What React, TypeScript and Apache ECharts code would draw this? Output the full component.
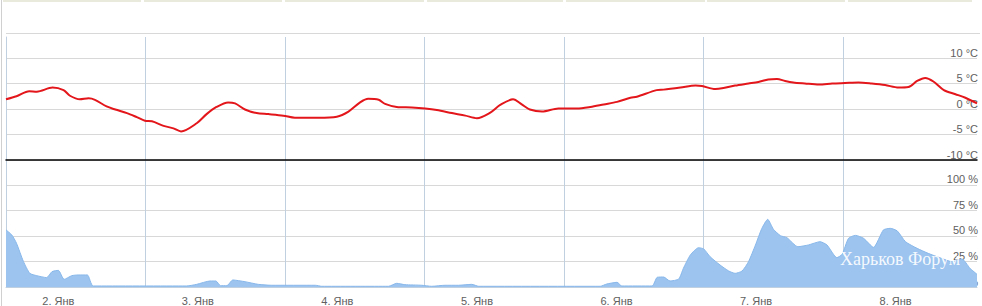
import React, { useEffect, useRef } from 'react';
import * as echarts from 'echarts';

// Hours since 2 Jan 00:00
const tempHours = [0, 1.8, 4.0, 5.3, 8.0, 9.9, 11.0, 12.7, 14.2, 15.3, 17.3, 18.8, 20.8, 22.5, 23.9, 25.1, 27.1, 28.8, 30.1, 32.8, 34.5, 36.2, 38.2, 39.4, 41.1, 43.1, 45.1, 47.7, 49.7, 53.7, 56.9, 58.9, 60.9, 62.3, 64.1, 65.2, 67.2, 69.8, 72.1, 74.1, 76.7, 79.0, 81.0, 83.3, 85.0, 87.2, 88.7, 90.1, 92.2, 95.0, 98.2, 100.5, 102.8, 105.1, 107.4, 108.5, 111.9, 113.1, 116.0, 118.6, 119.7, 122.0, 123.4, 125.4, 127.7, 129.4, 131.1, 132.6, 134.0, 135.4, 137.4, 139.8, 142.1, 144.3, 146.6, 148.9, 151.2, 153.5, 155.2, 156.7, 158.1, 159.5, 161.3, 163.3, 165.0, 167.0];
const tempValues = [1.9, 2.5, 3.5, 3.4, 4.2, 3.7, 2.6, 1.9, 2.1, 1.8, 0.5, -0.1, -0.8, -1.6, -2.3, -2.4, -3.3, -3.8, -4.4, -2.8, -1.0, 0.4, 1.3, 1.1, -0.1, -0.8, -1.0, -1.3, -1.7, -1.7, -1.5, -0.5, 1.3, 2.0, 1.8, 1.0, 0.4, 0.3, 0.1, -0.2, -0.8, -1.3, -1.8, -0.7, 0.8, 1.9, 0.9, -0.1, -0.5, 0.1, 0.1, 0.4, 0.9, 1.4, 2.2, 2.4, 3.7, 3.8, 4.2, 4.6, 4.5, 3.9, 4.1, 4.6, 5.0, 5.3, 5.8, 5.9, 5.5, 5.2, 5.0, 4.8, 5.0, 5.1, 5.2, 5.0, 4.7, 4.2, 4.3, 5.5, 6.1, 5.4, 3.7, 2.9, 2.2, 1.1];

const humHours = [0, 1.0, 1.8, 3.0, 4.1, 5.3, 7.0, 7.9, 9.0, 10.0, 11.3, 12.4, 14.0, 15.0, 31.1, 32.8, 35.1, 36.1, 36.9, 38.0, 39.0, 41.1, 43.4, 45.7, 53.2, 54.3, 65.8, 67.2, 68.6, 71.5, 73.2, 75.5, 77.8, 80.1, 81.3, 102.2, 103.3, 105.1, 105.9, 111.1, 112.0, 113.1, 114.2, 115.7, 116.5, 117.7, 119.1, 120.0, 121.1, 122.8, 124.3, 125.4, 126.6, 127.7, 128.9, 130.0, 131.0, 132.0, 133.2, 134.3, 136.2, 138.0, 140.0, 141.2, 142.9, 143.8, 144.9, 146.1, 147.5, 149.2, 150.9, 152.1, 153.3, 154.7, 156.7, 158.6, 160.9, 162.7, 164.4, 165.8, 167.0];
const humValues = [56, 51, 43, 25, 13.4, 11.1, 9.2, 15, 16.3, 7.5, 11.1, 11.8, 11.8, 1.0, 1.0, 2.6, 5.9, 5.9, 1.3, 1.3, 6.9, 5.2, 2.6, 1.7, 1.7, 0.7, 0.7, 3.6, 2.3, 1.7, 0.7, 1.7, 1.7, 2.6, 0.7, 0.7, 2.9, 4.6, 1.0, 1.0, 9.5, 9.8, 5.9, 7.8, 18.3, 31.4, 38.5, 37.3, 29.7, 21.6, 15.7, 13.4, 15.7, 24.8, 41.2, 57.5, 66.3, 56.5, 50.3, 48.4, 39.5, 41.2, 44.4, 41.2, 28.8, 32, 47.7, 50.6, 47.7, 38.9, 55.9, 57.5, 54.9, 44.4, 37.9, 33, 28.1, 24.8, 27.5, 18.3, 12.5];

const dayLabels = ['2. Янв', '3. Янв', '4. Янв', '5. Янв', '6. Янв', '7. Янв', '8. Янв'];
const dayGridHours = [0, 24, 48, 72, 96, 120, 144];
const labelHours = [9, 33, 57, 81, 105, 129, 153];
const tempTicks = [-10, -5, 0, 5, 10];
const humTicks = [0, 25, 50, 75, 100];

const X_MAX = 167;
const LABEL_FONT = { color: '#606060', fontSize: 11, fontFamily: 'Liberation Sans, Arial, sans-serif' };

export default function App() {
  const ref = useRef<HTMLDivElement>(null);
  useEffect(() => {
    if (!ref.current) return;
    const chart = echarts.init(ref.current, undefined, { renderer: 'svg' });
    const xCommon = (gridIndex: number) => ({
      gridIndex,
      type: 'value' as const,
      min: 0,
      max: X_MAX,
      axisTick: { show: false, customValues: dayGridHours },
      splitLine: { show: true, lineStyle: { color: '#c0d0e0', width: 1 } },
    });
    const beigeSegs = [[3, 141], [144, 282], [285, 424], [427, 563], [566, 705], [707, 845], [848, 972]];
    chart.setOption({
      animation: false,
      backgroundColor: '#ffffff',
      grid: [
        { left: 6, right: 5, top: 37, height: 123 },
        { left: 6, right: 5, top: 160, height: 127 },
      ],
      xAxis: [
        {
          ...xCommon(0),
          axisLine: { show: true, onZero: false, lineStyle: { color: '#000000', width: 1.5 } },
          axisLabel: { show: false },
        },
        {
          ...xCommon(1),
          axisLine: { show: true, onZero: false, lineStyle: { color: '#c0d0e0', width: 1 } },
          axisLabel: {
            show: true,
            customValues: labelHours,
            margin: 8,
            ...LABEL_FONT,
            formatter: (v: number) => dayLabels[labelHours.indexOf(v)] ?? '',
          },
        },
      ],
      yAxis: [
        {
          gridIndex: 0,
          type: 'value',
          position: 'right',
          min: -10,
          max: 14.12,
          axisLine: { show: true, lineStyle: { color: '#c0d0e0' } },
          axisTick: { show: false, customValues: tempTicks },
          axisLabel: {
            inside: true,
            margin: -1,
            verticalAlign: 'bottom',
            customValues: tempTicks,
            formatter: '{value} °C',
            ...LABEL_FONT,
          },
          splitLine: { show: true, lineStyle: { color: '#d8d8d8' } },
        },
        {
          gridIndex: 1,
          type: 'value',
          position: 'right',
          min: 0,
          max: 124.5,
          axisLine: { show: true, lineStyle: { color: '#c0d0e0' } },
          axisTick: { show: false, customValues: humTicks },
          axisLabel: {
            inside: true,
            margin: -1,
            verticalAlign: 'bottom',
            customValues: humTicks,
            formatter: '{value} %',
            ...LABEL_FONT,
          },
          splitLine: { show: true, lineStyle: { color: '#d8d8d8' } },
        },
      ],
      series: [
        {
          type: 'line',
          name: 'Температура',
          xAxisIndex: 0,
          yAxisIndex: 0,
          data: tempHours.map((h, i) => [h, tempValues[i]]),
          showSymbol: false,
          smooth: 0.3,
          lineStyle: { color: '#e3161b', width: 2 },
          z: 5,
        },
        {
          type: 'line',
          name: 'Влажность',
          xAxisIndex: 1,
          yAxisIndex: 1,
          data: humHours.map((h, i) => [h, humValues[i]]),
          showSymbol: false,
          smooth: 0.2,
          lineStyle: { color: '#88b7ea', width: 1 },
          areaStyle: { color: '#9cc4ef', opacity: 1 },
          z: 3,
        },
      ],
      graphic: [
        { type: 'line', shape: { x1: 6, y1: 33.5, x2: 980, y2: 33.5 }, style: { stroke: '#d8d8d8', lineWidth: 1 }, z: 1 },
        { type: 'line', shape: { x1: 1.5, y1: 0, x2: 1.5, y2: 306 }, style: { stroke: '#d0d0d0', lineWidth: 1 }, z: 1 },
        ...beigeSegs.map(([a, b]) => ({
          type: 'rect',
          shape: { x: a, y: 0, width: b - a, height: 2 },
          style: { fill: '#e9e9dc' },
          z: 1,
        })),
        {
          type: 'text',
          x: 840,
          y: 250,
          style: {
            text: 'Харьков Форум',
            fill: 'rgba(255,255,255,0.92)',
            font: '18px "Liberation Serif", "DejaVu Serif", serif',
          },
          z: 100,
        },
      ],
    });
    return () => chart.dispose();
  }, []);
  return (
    <div
      ref={ref}
      style={{ position: 'fixed', left: 0, top: 0, width: 982, height: 306, background: '#fff' }}
    />
  );
}
